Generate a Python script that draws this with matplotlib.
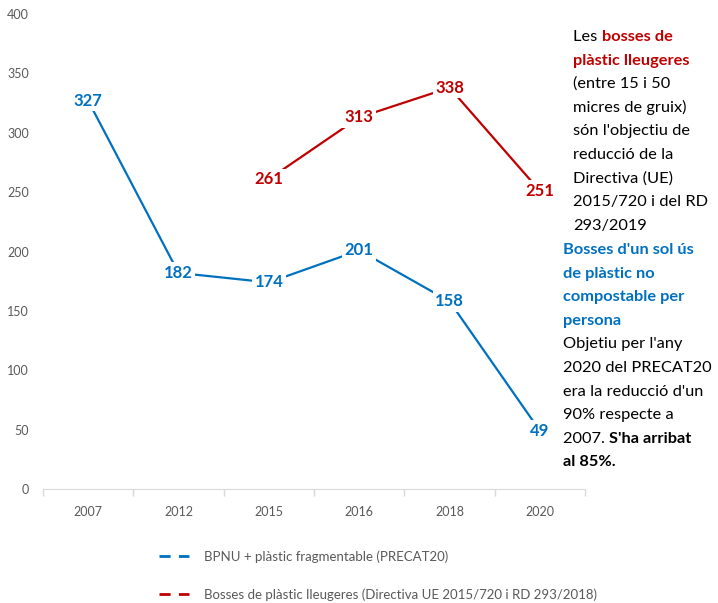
import matplotlib.pyplot as plt
from matplotlib.lines import Line2D

plt.rcParams['font.family'] = ['Lato', 'DejaVu Sans']

# Data
years = ["2007", "2012", "2015", "2016", "2018", "2020"]
bpnu = [327, 182, 174, 201, 158, 49]
lleug_years = ["2015", "2016", "2018", "2020"]
lleugeres = [261, 313, 338, 251]

blue = "#0070C0"
red = "#C00000"
grey = "#595959"

fig = plt.figure(figsize=(7.18, 6.03), dpi=100)
ax = fig.add_axes([0.0599, 0.189, 0.755, 0.7877])

xb = [years.index(y) for y in years]
xr = [years.index(y) for y in lleug_years]
ax.plot(xb, bpnu, color=blue, lw=1.6, zorder=2)
ax.plot(xr, lleugeres, color=red, lw=1.6, zorder=2)

# data labels sit on the points, white box hides the line behind them
for x, v in zip(xb, bpnu):
    ax.text(x, v, str(v), color=blue, fontsize=12, fontweight='bold',
            ha='center', va='center', zorder=3,
            bbox=dict(boxstyle='square,pad=0.15', fc='white', ec='none'))
for x, v in zip(xr, lleugeres):
    ax.text(x, v, str(v), color=red, fontsize=12, fontweight='bold',
            ha='center', va='center', zorder=3,
            bbox=dict(boxstyle='square,pad=0.15', fc='white', ec='none'))

ax.set_xlim(-0.5, 5.5)
ax.set_ylim(0, 400)
ax.set_yticks(range(0, 401, 50))
ax.set_xticks(range(len(years)))
ax.set_xticklabels(years)
ax.set_xticks([i - 0.5 for i in range(len(years) + 1)], minor=True)
ax.tick_params(axis='x', which='major', length=0, pad=12, labelsize=9, labelcolor=grey)
ax.tick_params(axis='x', which='minor', length=5, color='#D9D9D9', width=1)
ax.tick_params(axis='y', length=0, pad=10, labelsize=9, labelcolor=grey)
for s in ['top', 'right', 'left']:
    ax.spines[s].set_visible(False)
ax.spines['bottom'].set_color('#D9D9D9')


def put_runs(x_px, y_px, parts, size=11.8):
    # one line of text made of runs with their own colour / weight
    last = None
    for txt, color, weight in parts:
        if last is None:
            last = fig.text(x_px / 718, 1 - y_px / 603, txt, color=color,
                            fontweight=weight, fontsize=size,
                            ha='left', va='baseline')
        else:
            last = ax.annotate(txt, xy=(1, 0), xycoords=last,
                               ha='left', va='bottom', color=color,
                               fontweight=weight, fontsize=size,
                               annotation_clip=False)


blk1 = [
    [("Les ", "black", "normal"), ("bosses de", red, "bold")],
    [("plàstic lleugeres", red, "bold")],
    [("(entre 15 i 50", "black", "normal")],
    [("micres de gruix)", "black", "normal")],
    [("són l'objectiu de", "black", "normal")],
    [("reducció de la", "black", "normal")],
    [("Directiva (UE)", "black", "normal")],
    [("2015/720 i del RD", "black", "normal")],
    [("293/2019", "black", "normal")],
]
blk2 = [
    [("Bosses d'un sol ús", blue, "bold")],
    [("de plàstic no", blue, "bold")],
    [("compostable per", blue, "bold")],
    [("persona", blue, "bold")],
    [("Objetiu per l'any", "black", "normal")],
    [("2020 del PRECAT20", "black", "normal")],
    [("era la reducció d'un", "black", "normal")],
    [("90% respecte a", "black", "normal")],
    [("2007. ", "black", "normal"), ("S'ha arribat", "black", "bold")],
    [("al 85%.", "black", "bold")],
]
step = 23.6
for i, parts in enumerate(blk1):
    put_runs(573, 41 + i * step, parts)
for i, parts in enumerate(blk2):
    put_runs(563, 254 + i * step, parts)

handles = [Line2D([], [], color=blue, lw=2, ls=(0, (4, 3))),
           Line2D([], [], color=red, lw=2, ls=(0, (4, 3)))]
labels = ["BPNU + plàstic fragmentable (PRECAT20)",
          "Bosses de plàstic lleugeres (Directiva UE 2015/720 i RD 293/2018)"]
fig.legend(handles, labels, loc='upper left', bbox_to_anchor=(0.205, 0.107),
           frameon=False, fontsize=9.5, labelcolor=grey, handlelength=2.3,
           labelspacing=1.9, handletextpad=1.1)

fig.savefig("out.png", dpi=100)
